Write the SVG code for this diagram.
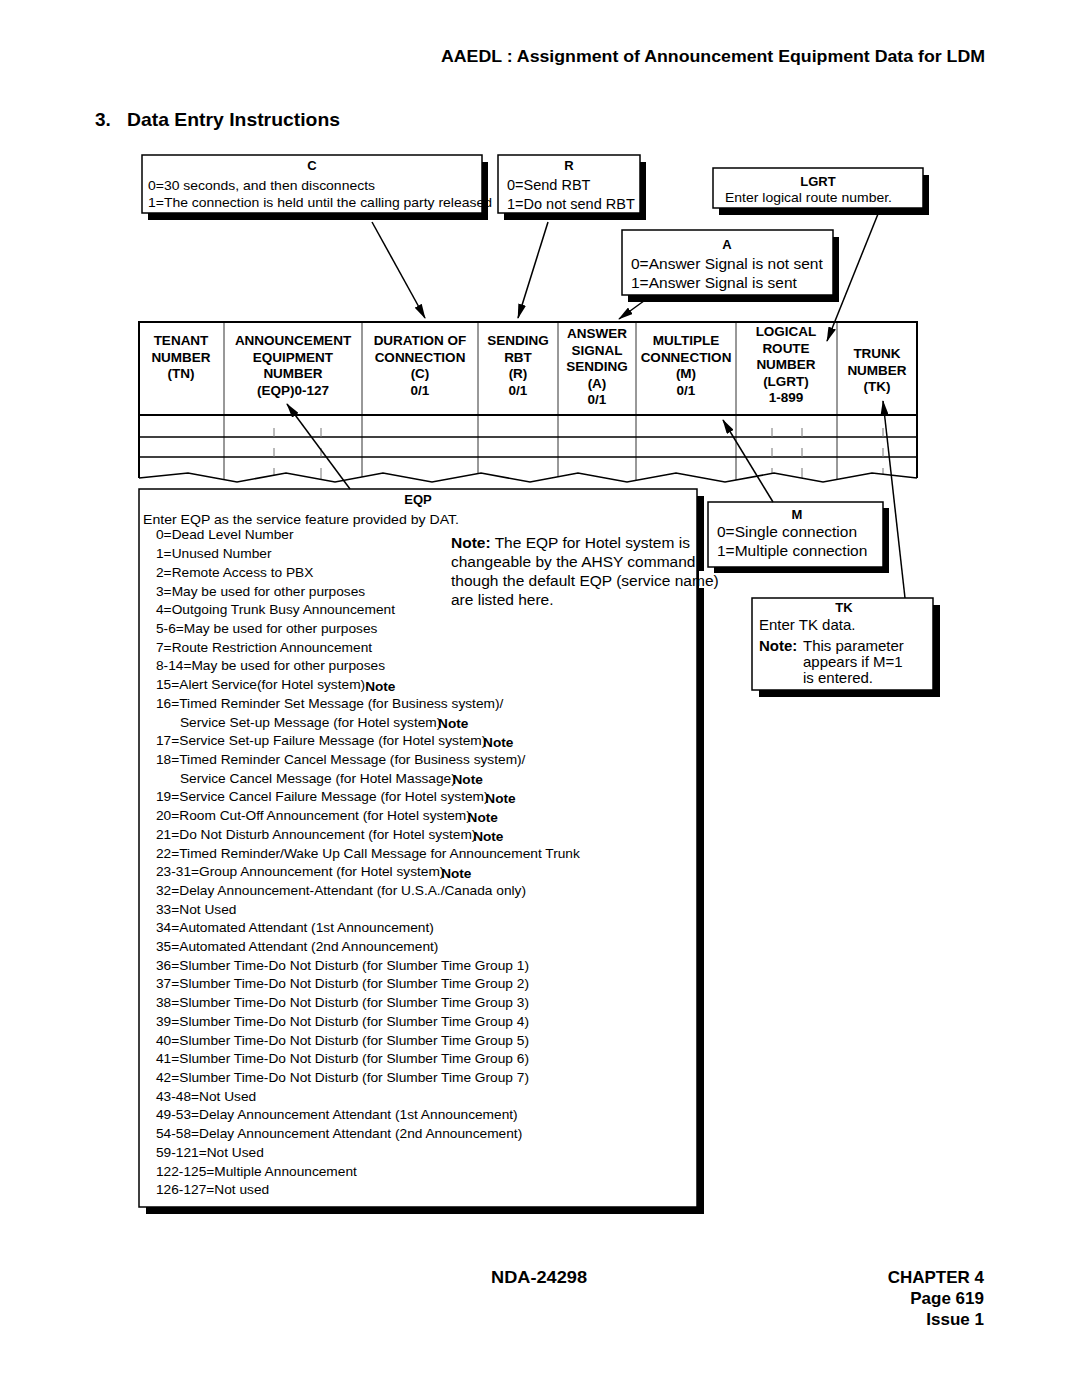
<svg xmlns="http://www.w3.org/2000/svg" width="1080" height="1397" viewBox="0 0 1080 1397">
<style>
text{font-family:"Liberation Sans",Arial,Helvetica,sans-serif;fill:#000}
.b{font-weight:bold}
.hd{font-weight:bold;font-size:13.5px;text-anchor:middle}
.ttl{font-weight:bold;font-size:13px;text-anchor:middle}
.box{fill:#fff;stroke:#000;stroke-width:1.5}
.sh{fill:#000}
.s12{font-size:12.6px}
.s15{font-size:15.5px}
.li{font-size:12.6px}
.nt{font-size:12.5px;font-weight:bold}
.conn{stroke:#000;stroke-width:1.5;fill:none;marker-end:url(#arr)}
.vl{stroke:#333;stroke-width:1}
.hl{stroke:#000;stroke-width:1.3}
.tick{stroke:#777;stroke-width:1}
</style>
<defs>
<marker id="arr" markerUnits="userSpaceOnUse" markerWidth="15" markerHeight="8" refX="14" refY="4" orient="auto">
<path d="M0,0 L15,4 L0,8 Z" fill="#000"/>
</marker>
<clipPath id="tbl"><polygon points="139,322 917,322 917,478 872,473 823,482 774,473 725,482 676,473 627,482 578,473 530,482 481,473 432,482 383,473 335,482 286,473 237,482 188,473 139,478"/></clipPath>
</defs>
<rect width="1080" height="1397" fill="#fff"/>

<g id="page-header">
<text class="b" x="985" y="62" font-size="17" text-anchor="end" textLength="544" lengthAdjust="spacingAndGlyphs">AAEDL : Assignment of Announcement Equipment Data for LDM</text>
<text class="b" x="95" y="126" font-size="19">3.</text>
<text class="b" x="127" y="126" font-size="19" textLength="213" lengthAdjust="spacingAndGlyphs">Data Entry Instructions</text>
</g>

<g id="table">
<g clip-path="url(#tbl)">
<line class="vl" x1="224" y1="322" x2="224" y2="490"/>
<line class="vl" x1="362" y1="322" x2="362" y2="490"/>
<line class="vl" x1="478" y1="322" x2="478" y2="490"/>
<line class="vl" x1="558" y1="322" x2="558" y2="490"/>
<line class="vl" x1="636" y1="322" x2="636" y2="490"/>
<line class="vl" x1="736" y1="322" x2="736" y2="490"/>
<line class="vl" x1="837" y1="322" x2="837" y2="490"/>
<line class="hl" x1="139" y1="437" x2="917" y2="437"/>
<line class="hl" x1="139" y1="457" x2="917" y2="457"/>
<path class="tick" d="M274,428V437M321,428V437M274,448V457M321,448V457M274,468V480M321,468V480M772,428V437M802,428V437M772,448V457M802,448V457M772,468V480M802,468V480M883,428V437M883,448V457M883,468V480"/>
</g>
<line x1="139" y1="415" x2="917" y2="415" stroke="#000" stroke-width="2"/>
<polyline points="139,478 139,322 917,322 917,478" fill="none" stroke="#000" stroke-width="2"/>
<polyline points="139,478 188,473 237,482 286,473 335,482 383,473 432,482 481,473 530,482 578,473 627,482 676,473 725,482 774,473 823,482 872,473 917,478" fill="none" stroke="#000" stroke-width="1.6"/>
<text class="hd" x="181" y="345">TENANT</text>
<text class="hd" x="181" y="361.5">NUMBER</text>
<text class="hd" x="181" y="378">(TN)</text>
<text class="hd" x="293" y="345">ANNOUNCEMENT</text>
<text class="hd" x="293" y="361.5">EQUIPMENT</text>
<text class="hd" x="293" y="378">NUMBER</text>
<text class="hd" x="293" y="394.5">(EQP)0-127</text>
<text class="hd" x="420" y="345">DURATION OF</text>
<text class="hd" x="420" y="361.5">CONNECTION</text>
<text class="hd" x="420" y="378">(C)</text>
<text class="hd" x="420" y="394.5">0/1</text>
<text class="hd" x="518" y="345">SENDING</text>
<text class="hd" x="518" y="361.5">RBT</text>
<text class="hd" x="518" y="378">(R)</text>
<text class="hd" x="518" y="394.5">0/1</text>
<text class="hd" x="597" y="338">ANSWER</text>
<text class="hd" x="597" y="354.5">SIGNAL</text>
<text class="hd" x="597" y="371">SENDING</text>
<text class="hd" x="597" y="387.5">(A)</text>
<text class="hd" x="597" y="404">0/1</text>
<text class="hd" x="686" y="345">MULTIPLE</text>
<text class="hd" x="686" y="361.5">CONNECTION</text>
<text class="hd" x="686" y="378">(M)</text>
<text class="hd" x="686" y="394.5">0/1</text>
<text class="hd" x="786" y="336">LOGICAL</text>
<text class="hd" x="786" y="352.5">ROUTE</text>
<text class="hd" x="786" y="369">NUMBER</text>
<text class="hd" x="786" y="385.5">(LGRT)</text>
<text class="hd" x="786" y="402">1-899</text>
<text class="hd" x="877" y="358">TRUNK</text>
<text class="hd" x="877" y="374.5">NUMBER</text>
<text class="hd" x="877" y="391">(TK)</text>
</g>

<g id="box-c">
<rect class="sh" x="148" y="162" width="340" height="58"/>
<rect class="box" x="142" y="155" width="340" height="58"/>
<text class="ttl" x="312" y="170">C</text>
<text class="s12" x="148" y="190" textLength="227" lengthAdjust="spacingAndGlyphs">0=30 seconds, and then disconnects</text>
<text class="s12" x="148" y="207" textLength="344" lengthAdjust="spacingAndGlyphs">1=The connection is held until the calling party released</text>
</g>

<g id="box-r">
<rect class="sh" x="504" y="162" width="142" height="58"/>
<rect class="box" x="498" y="155" width="142" height="58"/>
<text class="ttl" x="569" y="170">R</text>
<text x="507" y="189.5" font-size="14.5">0=Send RBT</text>
<text x="507" y="208.5" font-size="14.5">1=Do not send RBT</text>
</g>

<g id="box-lgrt">
<rect class="sh" x="719" y="175" width="210" height="40"/>
<rect class="box" x="713" y="168" width="210" height="40"/>
<text class="ttl" x="818" y="185.5" font-size="14">LGRT</text>
<text class="s12" x="725" y="202" textLength="167" lengthAdjust="spacingAndGlyphs">Enter logical route number.</text>
</g>

<g id="box-a">
<rect class="sh" x="628" y="237" width="211" height="65"/>
<rect class="box" x="622" y="230" width="211" height="65"/>
<text class="ttl" x="727" y="249">A</text>
<text class="s15" x="631" y="268.5">0=Answer Signal is not sent</text>
<text class="s15" x="631" y="287.5">1=Answer Signal is sent</text>
</g>

<g id="box-eqp">
<rect class="sh" x="146" y="496" width="558" height="718"/>
<rect class="box" x="139" y="489" width="558" height="718"/>
<text class="ttl" x="418" y="503.5">EQP</text>
<text class="s12" x="143" y="523.5" textLength="316" lengthAdjust="spacingAndGlyphs">Enter EQP as the service feature provided by DAT.</text>
<g transform="translate(156,0) scale(1.09,1)" class="li">
<text x="0" y="539.5">0=Dead Level Number</text>
<text x="0" y="558.2">1=Unused Number</text>
<text x="0" y="576.9">2=Remote Access to PBX</text>
<text x="0" y="595.6">3=May be used for other purposes</text>
<text x="0" y="614.3">4=Outgoing Trunk Busy Announcement</text>
<text x="0" y="633.0">5-6=May be used for other purposes</text>
<text x="0" y="651.8">7=Route Restriction Announcement</text>
<text x="0" y="670.5">8-14=May be used for other purposes</text>
<text x="0" y="689.2">15=Alert Service(for Hotel system)<tspan class="nt" dy="1.8">Note</tspan></text>
<text x="0" y="707.9">16=Timed Reminder Set Message (for Business system)/</text>
<text x="22" y="726.6">Service Set-up Message (for Hotel system)<tspan class="nt" dx="-3" dy="1.8">Note</tspan></text>
<text x="0" y="745.3">17=Service Set-up Failure Message (for Hotel system)<tspan class="nt" dx="-3" dy="1.8">Note</tspan></text>
<text x="0" y="764.0">18=Timed Reminder Cancel Message (for Business system)/</text>
<text x="22" y="782.7">Service Cancel Message (for Hotel Massage)<tspan class="nt" dx="-3" dy="1.8">Note</tspan></text>
<text x="0" y="801.4">19=Service Cancel Failure Message (for Hotel system)<tspan class="nt" dx="-3" dy="1.8">Note</tspan></text>
<text x="0" y="820.1">20=Room Cut-Off Announcement (for Hotel system)<tspan class="nt" dx="-3" dy="1.8">Note</tspan></text>
<text x="0" y="838.9">21=Do Not Disturb Announcement (for Hotel system)<tspan class="nt" dx="-3" dy="1.8">Note</tspan></text>
<text x="0" y="857.6">22=Timed Reminder/Wake Up Call Message for Announcement Trunk</text>
<text x="0" y="876.3">23-31=Group Announcement (for Hotel system)<tspan class="nt" dx="-3" dy="1.8">Note</tspan></text>
<text x="0" y="895.0">32=Delay Announcement-Attendant (for U.S.A./Canada only)</text>
<text x="0" y="913.7">33=Not Used</text>
<text x="0" y="932.4">34=Automated Attendant (1st Announcement)</text>
<text x="0" y="951.1">35=Automated Attendant (2nd Announcement)</text>
<text x="0" y="969.8">36=Slumber Time-Do Not Disturb (for Slumber Time Group 1)</text>
<text x="0" y="988.5">37=Slumber Time-Do Not Disturb (for Slumber Time Group 2)</text>
<text x="0" y="1007.2">38=Slumber Time-Do Not Disturb (for Slumber Time Group 3)</text>
<text x="0" y="1026.0">39=Slumber Time-Do Not Disturb (for Slumber Time Group 4)</text>
<text x="0" y="1044.7">40=Slumber Time-Do Not Disturb (for Slumber Time Group 5)</text>
<text x="0" y="1063.4">41=Slumber Time-Do Not Disturb (for Slumber Time Group 6)</text>
<text x="0" y="1082.1">42=Slumber Time-Do Not Disturb (for Slumber Time Group 7)</text>
<text x="0" y="1100.8">43-48=Not Used</text>
<text x="0" y="1119.5">49-53=Delay Announcement Attendant (1st Announcement)</text>
<text x="0" y="1138.2">54-58=Delay Announcement Attendant (2nd Announcement)</text>
<text x="0" y="1156.9">59-121=Not Used</text>
<text x="0" y="1175.6">122-125=Multiple Announcement</text>
<text x="0" y="1194.4">126-127=Not used</text>
</g>
<rect x="699" y="571" width="24" height="17" fill="#fff"/>
<text class="s15" x="451" y="547.5"><tspan class="b">Note:</tspan> The EQP for Hotel system is</text>
<text class="s15" x="451" y="566.5">changeable by the AHSY command</text>
<text class="s15" x="451" y="585.5">though the default EQP (service name)</text>
<text class="s15" x="451" y="604.5">are listed here.</text>
</g>

<g id="box-m">
<rect class="sh" x="714" y="508" width="175" height="65"/>
<rect class="box" x="708" y="502" width="175" height="65"/>
<text class="ttl" x="797" y="518.5">M</text>
<text class="s15" x="717" y="536.5">0=Single connection</text>
<text class="s15" x="717" y="555.5">1=Multiple connection</text>
</g>

<g id="box-tk">
<rect class="sh" x="759" y="605" width="181" height="92"/>
<rect class="box" x="752" y="598" width="181" height="92"/>
<text class="ttl" x="844" y="612">TK</text>
<text x="759" y="629.5" font-size="15">Enter TK data.</text>
<text class="b" x="759" y="650.5" font-size="15">Note:</text>
<text x="803" y="650.5" font-size="15">This parameter</text>
<text x="803" y="666.5" font-size="15">appears if M=1</text>
<text x="803" y="682.5" font-size="15">is entered.</text>
</g>

<g id="connectors">
<line class="conn" x1="372" y1="222" x2="425" y2="318"/>
<line class="conn" x1="548" y1="222" x2="518" y2="318"/>
<line class="conn" x1="648" y1="298" x2="619" y2="319"/>
<line class="conn" x1="878" y1="214" x2="827" y2="341"/>
<line class="conn" x1="350" y1="489" x2="287" y2="404"/>
<line class="conn" x1="773" y1="502" x2="723" y2="420"/>
<line class="conn" x1="905" y1="598" x2="883" y2="401"/>
</g>

<g id="page-footer">
<text class="b" x="491" y="1283" font-size="16.5" textLength="96" lengthAdjust="spacingAndGlyphs">NDA-24298</text>
<text class="b" x="984" y="1283" font-size="17" text-anchor="end">CHAPTER 4</text>
<text class="b" x="984" y="1304" font-size="17" text-anchor="end">Page 619</text>
<text class="b" x="984" y="1325" font-size="17" text-anchor="end">Issue 1</text>
</g>
</svg>
